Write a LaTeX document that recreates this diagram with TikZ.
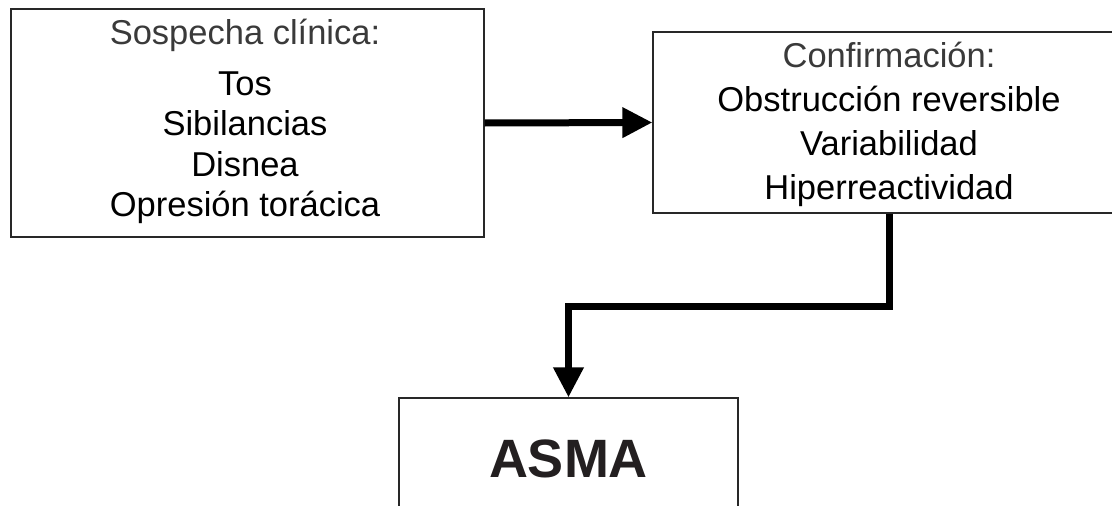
\documentclass[tikz,border=0pt]{standalone}
\usepackage{fontspec}
\setmainfont{Liberation Sans}
\usetikzlibrary{arrows.meta}
\definecolor{gristitulo}{RGB}{58,58,58}
\definecolor{borde}{RGB}{40,40,40}
\definecolor{tinta}{RGB}{35,31,32}
\tikzstyle{caja} = [draw=borde, line width=1.3pt, inner sep=0pt]
\tikzstyle{texto} = [align=center, font=\fontsize{34.5}{40.5}\selectfont]
\tikzstyle{flecha} = [line width=7pt, -{Triangle[length=30pt,width=29pt]}]

\begin{document}
\begin{tikzpicture}[x=1pt, y=-1pt]
		\useasboundingbox (0,0) rectangle (1112,506);
		\clip (0,0) rectangle (1112,506);
		\node[caja, minimum width=473pt, minimum height=228pt] (sospecha) at (247.5,123) {};
		\node[texto] (sintomas) at (245,121.5) {\textcolor{gristitulo}{Sospecha clínica:}\\[10pt] Tos\\ Sibilancias\\ Disnea\\ Opresión torácica};
		\node[caja, minimum width=472pt, minimum height=181pt] (confirma) at (889,122.5) {};
		\node[texto, font=\fontsize{34.5}{44}\selectfont] (pruebas) at (889,124.5) {\textcolor{gristitulo}{Confirmación:}\\ Obstrucción reversible\\ Variabilidad\\ Hiperreactividad};
		\node[caja, minimum width=339pt, minimum height=122pt, text=tinta,
			font=\bfseries\fontsize{54}{60}\selectfont] (asma) at (568.5,459) {ASMA};
		\coordinate (codo) at (568.5,306.5);
		\draw[flecha] (sospecha.east) -- (confirma.west);
		\draw[flecha] (confirma.south) |- (codo) -- (asma.north);
\end{tikzpicture}
\end{document}
